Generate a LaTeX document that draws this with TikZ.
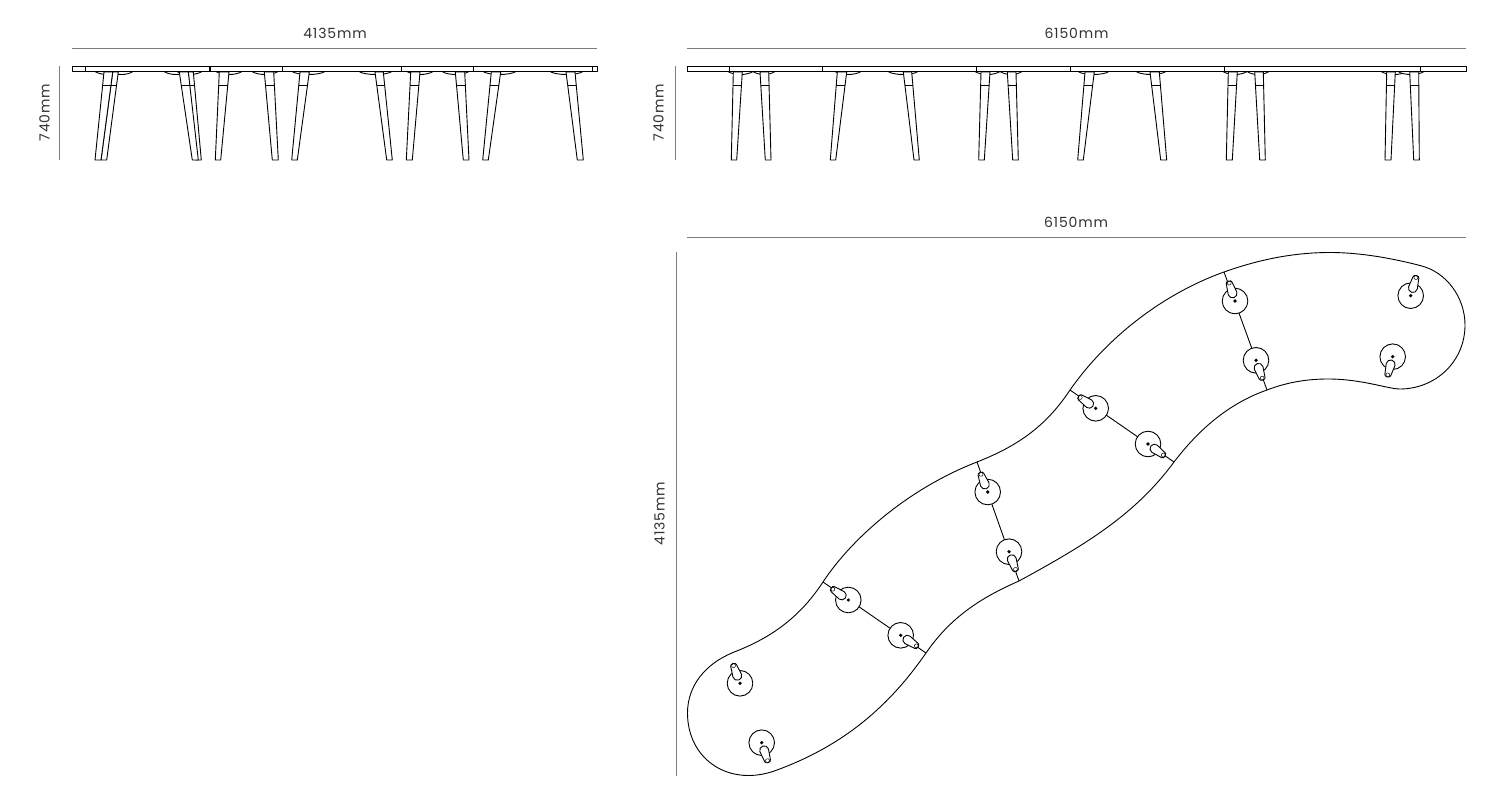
\documentclass[tikz,border=0pt]{standalone}
\usepackage{fontspec}
\setmainfont[LetterSpace=6]{Poppins}
\usepackage{tikz}
\usetikzlibrary{calc}
\definecolor{dimgray}{RGB}{125, 125, 125}
\definecolor{textgray}{RGB}{50, 50, 50}
\tikzset{
  tableline/.style={draw=black, line width=0.9pt, line join=round},
  dimline/.style={draw=dimgray, line width=0.8pt},
  dimlabel/.style={font=\fontsize{14}{16}\selectfont, text=textgray, inner sep=0pt},
}
% one leg: top left, top right, bottom left, bottom right
\newcommand{\sideleg}[4]{
  \draw[tableline, fill=white] (#1, 72) -- (#3, 160) -- (#4, 160) -- (#2, 72) -- cycle;
  \draw[tableline] ($(#1, 72)!0.156!(#3, 160)$) -- ($(#2, 72)!0.156!(#4, 160)$);
}

\begin{document}
\begin{tikzpicture}[x=1pt, y=-1pt]
  \useasboundingbox (0, 0) rectangle (1500, 802);

  % Side view, short
  \node[dimlabel] (shortwidth) at (335, 33) {4135mm};
  \node[dimlabel, rotate=90] (shortheight) at (44.5, 112.5) {740mm};
  \draw[dimline] (72, 48) -- (597, 48);
  \draw[dimline] (59, 66) -- (59, 160);
  \foreach \dl/\dr in {95/120, 110/133, 164/188, 177/202, 216/242, 252/278, 292/325, 359/392, 407/433, 442/469, 483/516, 550/583} {
    \draw[tableline, fill=white] (\dl, 71.5) .. controls (\dl+6, 75.5) and (\dr-6, 75.5) .. (\dr, 71.5);
  }
  \sideleg{112.7}{118.3}{101}{106.7}
  \sideleg{104}{112.7}{95}{101}
  \sideleg{188.3}{193.3}{195.7}{201.3}
  \sideleg{179.3}{188.3}{192.3}{198.3}
  \foreach \tl/\tr/\bl/\br in {219.3/229/215.3/220.7, 264.3/273.7/272.3/278.3, 300/309.3/291.7/297.3, 375/383.3/386.7/392.3, 410.7/420/406.3/412.3, 455.3/464.7/463.3/469, 491.3/500.7/482.7/488.3, 566/575/577.3/583.3} {
    \sideleg{\tl}{\tr}{\bl}{\br}
  }
  \draw[tableline, fill=white] (72, 66) rectangle (597, 71.5);
  \draw[line width=1.3pt] (85, 71.5) -- (592, 71.5);
  \foreach \x in {85.3, 282.3, 401.7, 473.3, 592.3} {
    \draw[tableline] (\x, 66) -- (\x, 71.5);
  }
  \draw[line width=1.6pt] (210, 66) -- (210, 71.5);

  % Side view, long
  \node[dimlabel] (longwidth) at (1076.5, 33) {6150mm};
  \node[dimlabel, rotate=90] (longheight) at (658.5, 112.5) {740mm};
  \draw[dimline] (687, 48) -- (1466, 48);
  \draw[dimline] (675, 66) -- (675, 160);
  \foreach \dl/\dr in {728/753, 753/775, 835/861, 888/918, 975/1000, 1000/1022, 1078/1109, 1136/1166, 1223/1247, 1247/1269, 1381/1407, 1398/1424} {
    \draw[tableline, fill=white] (\dl, 71.5) .. controls (\dl+6, 75.5) and (\dr-6, 75.5) .. (\dr, 71.5);
  }
  \foreach \tl/\tr/\bl/\br in {733.3/742.3/731.3/736.7, 760/768.7/765.3/771, 837.3/846.7/830.3/835.7, 903.3/911.7/914/919.3, 981/990/978.7/984.3, 1007.3/1016/1012.7/1018.3, 1085/1094.3/1077.7/1083.3, 1150/1159.3/1160.7/1166.7, 1228.3/1237.3/1226.3/1232.3, 1254.7/1263.3/1259.7/1265.3, 1386.7/1395.3/1385/1391, 1409.7/1418.7/1413.7/1419.3} {
    \sideleg{\tl}{\tr}{\bl}{\br}
  }
  \draw[tableline, fill=white] (687, 66) rectangle (1466, 71.5);
  \draw[line width=1.3pt] (687, 71.5) -- (1466, 71.5);
  \foreach \x in {729.3, 822.3, 976.7, 1070, 1224, 1420.3} {
    \draw[tableline] (\x, 66) -- (\x, 71.5);
  }

  % Plan view
  \node[dimlabel] (planwidth) at (1076, 222) {6150mm};
  \node[dimlabel, rotate=90] (planheight) at (659.5, 513.5) {4135mm};
  \draw[dimline] (687, 237) -- (1466, 237);
  \draw[dimline] (676, 252) -- (676, 776);

  % Outline, clockwise from the left end
  \draw[tableline] (687.5, 713)
    .. controls (687.5, 686) and (705, 664) .. (733, 652.5)
    .. controls (768, 639) and (798, 620) .. (823, 582)
    .. controls (850, 541) and (905, 490) .. (977, 462)
    .. controls (1015, 447) and (1045, 428) .. (1070, 390)
    .. controls (1105, 340) and (1160, 295) .. (1224, 272)
    .. controls (1255, 261) and (1290, 252.5) .. (1330, 252.5)
    .. controls (1362, 252.5) and (1395, 259) .. (1420, 265.5)
    .. controls (1447, 272) and (1465, 298) .. (1465, 325)
    .. controls (1465, 362) and (1435, 389) .. (1400, 389)
    .. controls (1388, 389) and (1362, 379) .. (1328, 379)
    .. controls (1305, 379) and (1285, 383) .. (1267, 390)
    .. controls (1230, 403) and (1200, 428) .. (1174, 462)
    .. controls (1135, 515) and (1085, 545) .. (1019, 581)
    .. controls (980, 598) and (950, 618) .. (926, 653)
    .. controls (890, 705) and (845, 745) .. (777, 770)
    .. controls (730, 788) and (687.5, 760) .. cycle;
  % Seams
  \draw[tableline] (823, 582) -- (926, 653);
  \draw[tableline] (977, 462) -- (1019, 581);
  \draw[tableline] (1070, 390) -- (1174, 462);
  \draw[tableline] (1224, 272) -- (1267, 390);

  % Feet: centre and direction of the leg
  \foreach \fx/\fy/\fa in {740/683.3/110, 761.7/742.7/-72, 848.3/600/145, 900.7/635.3/-34, 987.7/492/111, 1009/551.7/-70, 1095.7/408.3/145, 1148/444/-36, 1235/301/108, 1256/360.3/-71, 1410.7/295.7/74, 1392.7/356.7/-105} {
    \draw[tableline, fill=white] (\fx, \fy) circle (12.8);
    \fill (\fx, \fy) circle (1.8);
    \begin{scope}[shift={(\fx, \fy)}, rotate=\fa, x=1pt, y=1pt]
      \draw[tableline, fill=white] (8, 4.5) arc (90:270:4.5) -- (19, -3) arc (-90:90:2 and 3) -- cycle;
      \draw[line width=0.5pt] (18.8, 0) ellipse (1.9 and 2);
    \end{scope}
  }
\end{tikzpicture}
\end{document}
